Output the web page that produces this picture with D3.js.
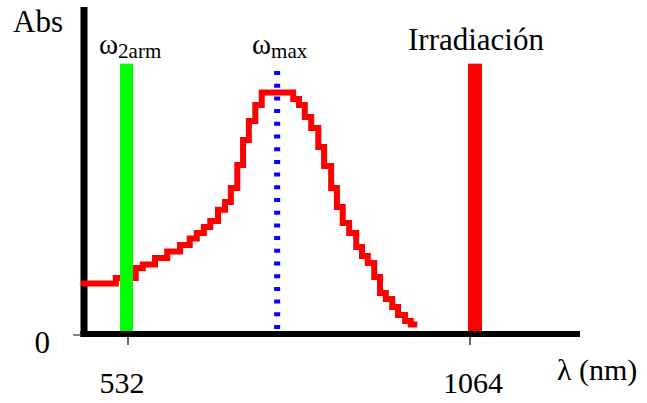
<!DOCTYPE html>
<html>
<head>
<meta charset="utf-8">
<script src="https://cdn.jsdelivr.net/npm/d3@7"></script>
<style>
  body { margin: 0; background: #fff; }
  text { font-family: "Liberation Serif", "Times New Roman", serif; fill: #000; }
</style>
</head>
<body>
<div id="chart"></div>
<script>
// absorption band (start of each step, nm -> relative Abs)
const bandLambda = [459, 513, 544, 555, 574, 593, 613, 628, 639, 650, 660, 672, 683, 692, 702, 711, 720,
    730, 740, 789, 798, 807, 817, 828, 837, 848, 857, 866, 876, 887, 896, 905, 915, 924, 933, 943, 952,
    963, 972, 982];
const bandAbs = [0.206, 0.229, 0.270, 0.285, 0.312, 0.339, 0.366, 0.393, 0.416, 0.441, 0.466, 0.512, 0.545,
    0.603, 0.699, 0.802, 0.881, 0.948, 1.000, 0.973, 0.948, 0.898, 0.852, 0.773, 0.694, 0.603, 0.524,
    0.457, 0.416, 0.358, 0.320, 0.291, 0.233, 0.166, 0.141, 0.108, 0.075, 0.050, 0.035, 0.035];

const xTicks = [532, 1064];
const lambdaMax = 764;
const lineTop = 1.12;   // height of the two laser lines, in Abs units

const width = 647, height = 403;

const svg = d3.select("#chart")
    .append("svg")
    .attr("width", width)
    .attr("height", height);

// scales
const x = d3.scaleLinear()
    .domain([532, 1064])
    .range([128, 470]);

const y = d3.scaleLinear()
    .domain([0, 1])
    .range([333, 92.5]);

const axisLeftLambda = x.invert(84);
const axisRightLambda = x.invert(580);

// axes (thick black)
svg.append("line")
    .attr("x1", x(axisLeftLambda)).attr("x2", x(axisLeftLambda))
    .attr("y1", 7).attr("y2", 337)
    .attr("stroke", "#000")
    .attr("stroke-width", 7);

svg.append("line")
    .attr("x1", x(axisLeftLambda) - 3.5).attr("x2", x(axisRightLambda))
    .attr("y1", 334).attr("y2", 334)
    .attr("stroke", "#000")
    .attr("stroke-width", 6);

// small tick marks
svg.append("line")
    .attr("x1", 73).attr("x2", 81)
    .attr("y1", 335).attr("y2", 335)
    .attr("stroke", "#333").attr("stroke-width", 1.2);

svg.selectAll(".xtick")
    .data(xTicks)
    .enter().append("line")
    .attr("class", "xtick")
    .attr("x1", d => x(d)).attr("x2", d => x(d))
    .attr("y1", 337).attr("y2", 345)
    .attr("stroke", "#333").attr("stroke-width", 1.5);

// red absorption band as a staircase
const band = bandLambda.map((l, i) => ({ l, a: bandAbs[i] }));
const stepLine = d3.line()
    .x(d => x(d.l))
    .y(d => y(d.a))
    .curve(d3.curveStepAfter);

svg.append("path")
    .datum(band)
    .attr("fill", "none")
    .attr("stroke", "#ff0000")
    .attr("stroke-width", 6)
    .attr("stroke-linejoin", "miter")
    .attr("d", stepLine);

// blue dotted line at lambda max
svg.append("line")
    .attr("x1", x(lambdaMax)).attr("x2", x(lambdaMax))
    .attr("y1", 71).attr("y2", 331)
    .attr("stroke", "#0000ff")
    .attr("stroke-width", 6)
    .attr("stroke-dasharray", "4,8.7");

// laser lines
svg.append("rect")
    .attr("x", x(532) - 8).attr("width", 13)
    .attr("y", y(lineTop)).attr("height", y(0) - 2 - y(lineTop))
    .attr("fill", "#00ff00");

svg.append("rect")
    .attr("x", x(1064) - 2).attr("width", 14)
    .attr("y", y(lineTop)).attr("height", y(0) - 2 - y(lineTop))
    .attr("fill", "#ff0000");

// labels
svg.append("text")
    .attr("x", 13).attr("y", 32)
    .style("font-size", "31px")
    .text("Abs");

svg.append("text")
    .attr("x", 50).attr("y", 353)
    .attr("text-anchor", "end")
    .style("font-size", "31px")
    .text("0");

svg.selectAll(".xlabel")
    .data(xTicks)
    .enter().append("text")
    .attr("class", "xlabel")
    .attr("x", d => x(d) + (d === 532 ? -6 : 3))
    .attr("y", 393)
    .attr("text-anchor", "middle")
    .style("font-size", "30px")
    .text(d => d);

svg.append("text")
    .attr("x", 557).attr("y", 380)
    .style("font-size", "30px")
    .text("λ (nm)");

svg.append("text")
    .attr("x", 408).attr("y", 50)
    .style("font-size", "31px")
    .text("Irradiación");

const w2 = svg.append("text")
    .attr("x", 99).attr("y", 54)
    .style("font-size", "29px");
w2.append("tspan").text("ω");
w2.append("tspan").attr("dy", 4).style("font-size", "21px").text("2arm");

const wm = svg.append("text")
    .attr("x", 252).attr("y", 54)
    .style("font-size", "29px");
wm.append("tspan").text("ω");
wm.append("tspan").attr("dy", 4).style("font-size", "21px").text("max");
</script>
</body>
</html>
